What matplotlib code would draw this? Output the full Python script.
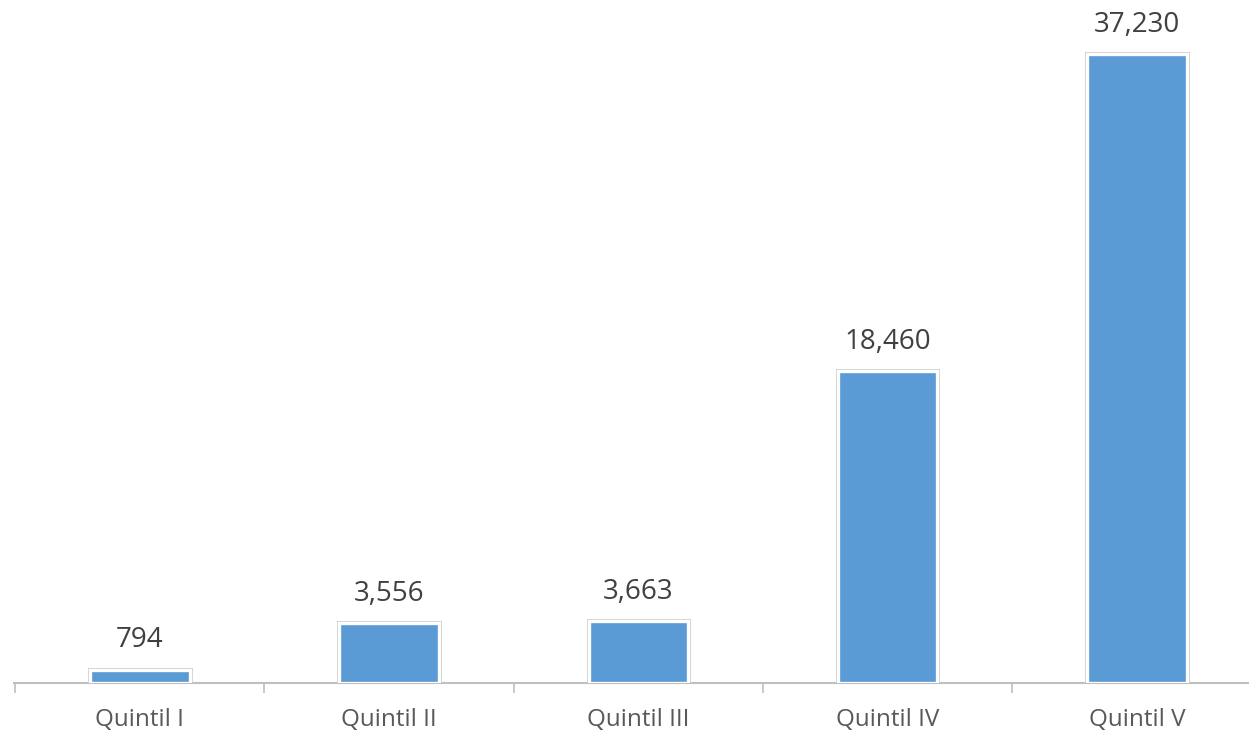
import matplotlib.pyplot as plt

categories = ["Quintil I", "Quintil II", "Quintil III", "Quintil IV", "Quintil V"]
values = [794, 3556, 3663, 18460, 37230]

plt.rcParams['font.family'] = ['Open Sans', 'DejaVu Sans']

fig = plt.figure(figsize=(12.49, 7.30), dpi=100)
# axes: left 14px, right 1249px, bottom at 683px from top
ax = fig.add_axes([14 / 1249, (730 - 683) / 730, (1249 - 14) / 1249, 683 / 730])

x = range(len(categories))
blue = "#5B9BD5"

# gray outline, then white inner border, then blue fill
ax.bar(x, values, width=0.4, color=blue, edgecolor="#cfcfcf", linewidth=3.6, zorder=2)
ax.bar(x, values, width=0.4, color=blue, edgecolor="white", linewidth=2.4, zorder=3)

for i, v in enumerate(values):
    ax.annotate(f"{v:,}", (i, v), xytext=(0, 11), textcoords="offset points",
                ha="center", va="bottom", fontsize=20, color="#404040")

ax.set_xlim(-0.505, 4.45)
ax.set_ylim(0, 40420)

for s in ["top", "right", "left"]:
    ax.spines[s].set_visible(False)
ax.spines["bottom"].set_color("#bfbfbf")
ax.spines["bottom"].set_linewidth(1.5)

ax.set_yticks([])
ax.set_xticks([i - 0.5 for i in range(len(categories))], minor=False)
ax.set_xticklabels([])
ax.tick_params(axis="x", which="major", length=7, width=1.2, color="#bfbfbf", direction="out")
ax.set_xticks(list(x), minor=True)
ax.set_xticklabels(categories, minor=True, fontsize=17.5, color="#595959")
ax.tick_params(axis="x", which="minor", length=0, pad=18)

fig.savefig("out.png", dpi=100)
